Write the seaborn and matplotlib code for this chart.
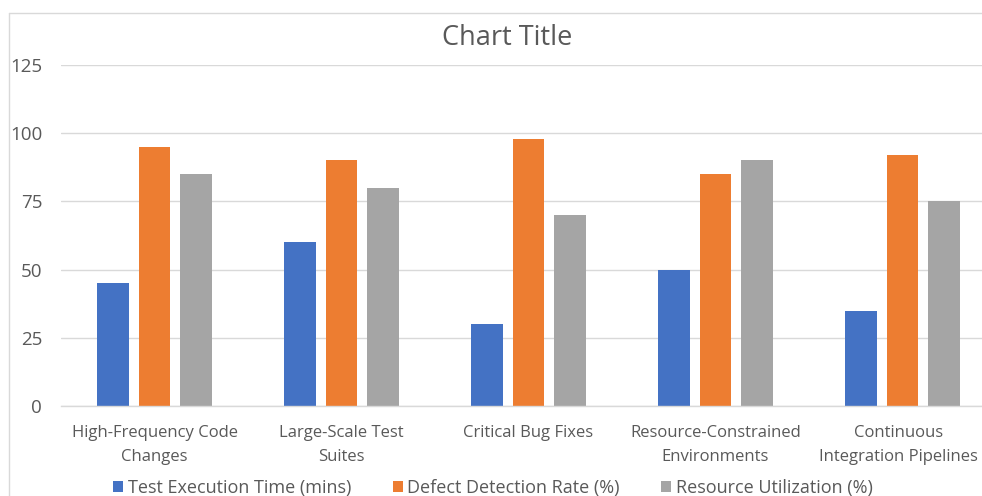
import matplotlib
matplotlib.use("Agg")
import matplotlib.pyplot as plt
from matplotlib.lines import Line2D
from matplotlib.transforms import ScaledTranslation
import seaborn as sns
import pandas as pd

categories = [
    "High-Frequency Code\nChanges",
    "Large-Scale Test\nSuites",
    "Critical Bug Fixes",
    "Resource-Constrained\nEnvironments",
    "Continuous\nIntegration Pipelines",
]
series_names = [
    "Test Execution Time (mins)",
    "Defect Detection Rate (%)",
    "Resource Utilization (%)",
]
test_execution_time = [45, 60, 30, 50, 35]
defect_detection_rate = [95, 90, 98, 85, 92]
resource_utilization = [85, 80, 70, 90, 75]
y_ticks = [0, 25, 50, 75, 100, 125]

colors = ["#4472C4", "#ED7D31", "#A5A5A5"]
text_color = "#595959"
grid_color = "#D9D9D9"

rows = []
for name, vals in zip(series_names, [test_execution_time, defect_detection_rate, resource_utilization]):
    for cat, v in zip(categories, vals):
        rows.append({"category": cat, "series": name, "value": v})
df = pd.DataFrame(rows)

sns.set_theme(style="white")
plt.rcParams["font.family"] = ["Open Sans", "DejaVu Sans"]

W, H = 982, 496
fig = plt.figure(figsize=(W / 100, H / 100), dpi=100)
fig.patch.set_facecolor("white")

# chart frame: left and top edges only, the rest runs off the canvas
x0, y0 = 8.5 / W, 1 - 12.5 / H
fig.add_artist(Line2D([x0, x0], [0, y0], transform=fig.transFigure, color=grid_color, linewidth=1.0))
fig.add_artist(Line2D([x0, 1], [y0, y0], transform=fig.transFigure, color=grid_color, linewidth=1.0))

ax = fig.add_axes([61 / W, 1 - 406 / H, (996 - 61) / W, (406 - 65) / H])
sns.barplot(data=df, x="category", y="value", hue="series", palette=colors,
            width=0.658, gap=0.22, ax=ax, saturation=1, edgecolor="none")

ax.set_ylim(0, 125)
ax.set_xlim(-0.5, 4.5)
ax.set_yticks(y_ticks)
ax.yaxis.grid(True, color=grid_color, linewidth=1.0)
ax.set_axisbelow(True)
for s in ["top", "right", "left"]:
    ax.spines[s].set_visible(False)
ax.spines["bottom"].set_color(grid_color)
ax.spines["bottom"].set_linewidth(1.0)
ax.set_xlabel("")
ax.set_ylabel("")
ax.tick_params(axis="both", length=0, colors=text_color)
ax.tick_params(axis="y", pad=13.5, labelsize=13.5)
ax.tick_params(axis="x", pad=14, labelsize=12)
xlabels = ax.get_xticklabels()
for lbl in xlabels:
    lbl.set_linespacing(1.65)
# keep the last category label inside the canvas
xlabels[-1].set_transform(xlabels[-1].get_transform() + ScaledTranslation(-4 / 100, 0, fig.dpi_scale_trans))

handles, labels = ax.get_legend_handles_labels()
ax.get_legend().remove()
fig.legend(handles, labels, loc="center", bbox_to_anchor=(493 / W, 1 - 488 / H), ncol=3,
           frameon=False, fontsize=13, labelcolor=text_color, handlelength=0.55,
           handleheight=0.55, handletextpad=0.25, columnspacing=2.3)

fig.text(507 / W, 1 - 38 / H, "Chart Title", ha="center", va="center", fontsize=19.5, color=text_color)

fig.savefig("out.png", dpi=100)
